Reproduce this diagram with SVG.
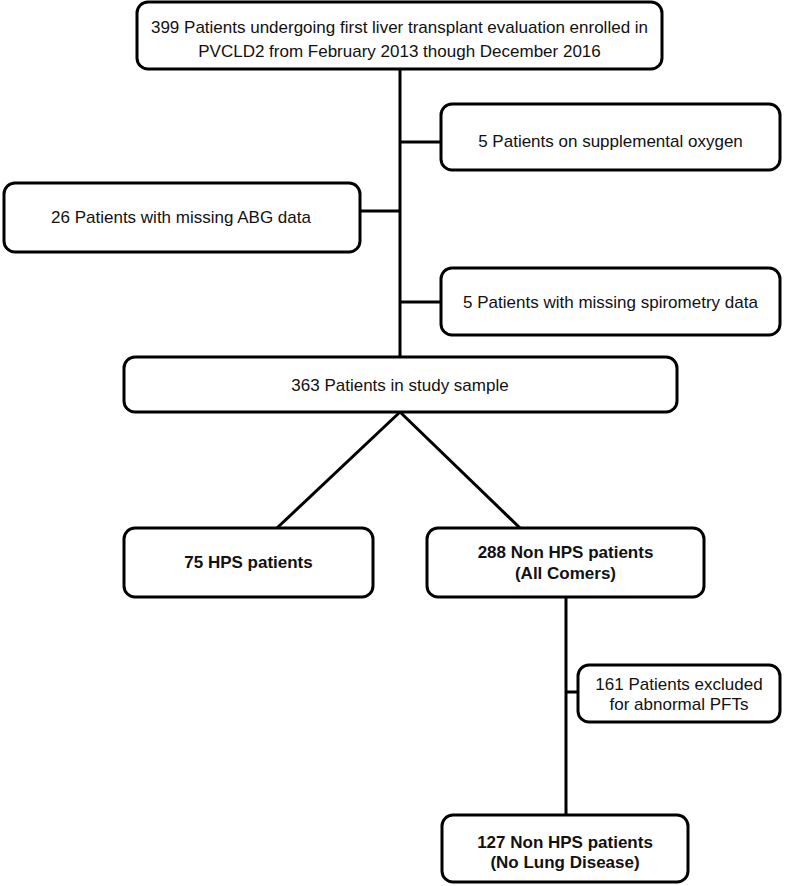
<svg xmlns="http://www.w3.org/2000/svg" width="800" height="886" viewBox="0 0 800 886">
<style>
.box{fill:#fff;stroke:#000;stroke-width:3}
.t{font-family:"Liberation Sans",Arial,sans-serif;font-size:17px;fill:#111;text-anchor:middle}
.b{font-weight:bold}
.c{stroke:#000;stroke-width:3;fill:none}
</style>
<rect width="800" height="886" fill="#fff"/>
<g id="connectors">
<line class="c" x1="400" y1="69" x2="400" y2="357"/>
<line class="c" x1="400" y1="142" x2="441" y2="142"/>
<line class="c" x1="360" y1="211" x2="400" y2="211"/>
<line class="c" x1="400" y1="302" x2="441" y2="302"/>
<line class="c" x1="400" y1="412" x2="277" y2="528"/>
<line class="c" x1="400" y1="412" x2="520" y2="528"/>
<line class="c" x1="566" y1="597" x2="566" y2="815"/>
<line class="c" x1="566" y1="692" x2="578" y2="692"/>
</g>
<g id="n_enrolled">
<rect class="box" x="137" y="2" width="525" height="67" rx="11"/>
<text class="t" x="399.5" y="33">399 Patients undergoing first liver transplant evaluation enrolled in</text>
<text class="t" x="399.5" y="57">PVCLD2 from February 2013 though December 2016</text>
</g>
<g id="n_oxygen">
<rect class="box" x="441" y="104" width="339" height="66" rx="11"/>
<text class="t" x="610.5" y="147">5 Patients on supplemental oxygen</text>
</g>
<g id="n_abg">
<rect class="box" x="4" y="183" width="356" height="69" rx="11"/>
<text class="t" x="181" y="223">26 Patients with missing ABG data</text>
</g>
<g id="n_spiro">
<rect class="box" x="441" y="268" width="339" height="67" rx="11"/>
<text class="t" x="610.5" y="308">5 Patients with missing spirometry data</text>
</g>
<g id="n_study">
<rect class="box" x="124" y="357" width="553" height="55" rx="11"/>
<text class="t" x="400" y="391">363 Patients in study sample</text>
</g>
<g id="n_hps">
<rect class="box" x="124" y="528" width="249" height="69" rx="11"/>
<text class="t b" x="248.5" y="568">75 HPS patients</text>
</g>
<g id="n_nonhps">
<rect class="box" x="427" y="528" width="277" height="69" rx="11"/>
<text class="t b" x="565.5" y="558">288 Non HPS patients</text>
<text class="t b" x="565.5" y="579">(All Comers)</text>
</g>
<g id="n_excluded">
<rect class="box" x="578" y="665" width="202" height="57" rx="11"/>
<text class="t" x="679" y="690">161 Patients excluded</text>
<text class="t" x="679" y="710">for abnormal PFTs</text>
</g>
<g id="n_nolung">
<rect class="box" x="442" y="815" width="246" height="67" rx="11"/>
<text class="t b" x="565" y="848">127 Non HPS patients</text>
<text class="t b" x="565" y="868">(No Lung Disease)</text>
</g>
</svg>
